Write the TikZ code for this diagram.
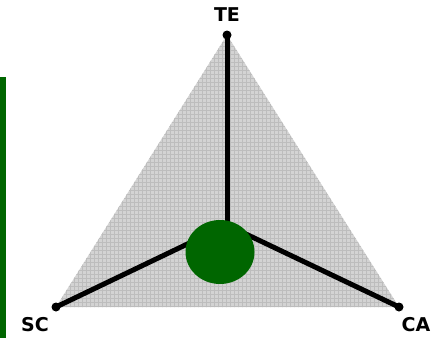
\documentclass[tikz,border=0pt]{standalone}
\usepackage{fontspec}
\setmainfont{DejaVu Sans}
\usetikzlibrary{shapes.geometric}
\definecolor{dgreen}{HTML}{006600}
\definecolor{tfill}{HTML}{D3D3D3}
\definecolor{tgrid}{HTML}{BDBDBD}
\begin{document}
\begin{tikzpicture}[x=1pt,y=-1pt,
  spoke/.style={line width=5pt,black},
  dotnode/.style={circle,fill=black,inner sep=0pt,minimum size=9pt},
  lbl/.style={font=\bfseries\fontsize{19}{19}\selectfont,inner sep=0pt}]
\useasboundingbox (0,0) rectangle (439,338);
\fill[white] (0,0) rectangle (439,338);
% left bar
\fill[dgreen] (0,77) rectangle (6,338);
% corners
\coordinate (te) at (227,35);
\coordinate (sc) at (56,307);
\coordinate (ca) at (399,307);
\coordinate (mid) at (227,225);
% triangle
\fill[tfill] (te) -- (sc) -- (ca) -- cycle;
\begin{scope}
\clip (te) -- (sc) -- (ca) -- cycle;
\foreach \k in {50,54,...,410} {\draw[tgrid,line width=0.8pt] (\k,30) -- (\k,310);}
\foreach \k in {30,34,...,310} {\draw[tgrid,line width=0.8pt] (50,\k) -- (410,\k);}
\end{scope}
% spokes
\draw[spoke] (te) -- (mid);
\draw[spoke] (sc) -- (mid);
\draw[spoke] (ca) -- (mid);
\node[dotnode] (dte) at (te) {};
\node[dotnode] (dsc) at (sc) {};
\node[dotnode] (dca) at (ca) {};
% centre blob
\node[ellipse,fill=dgreen,minimum width=69pt,minimum height=64pt,inner sep=0pt] (blob) at (220,252) {};
% labels
\node[lbl] (lte) at (227,15) {TE};
\node[lbl] (lsc) at (35,325) {SC};
\node[lbl] (lca) at (416,325) {CA};
\end{tikzpicture}
\end{document}
